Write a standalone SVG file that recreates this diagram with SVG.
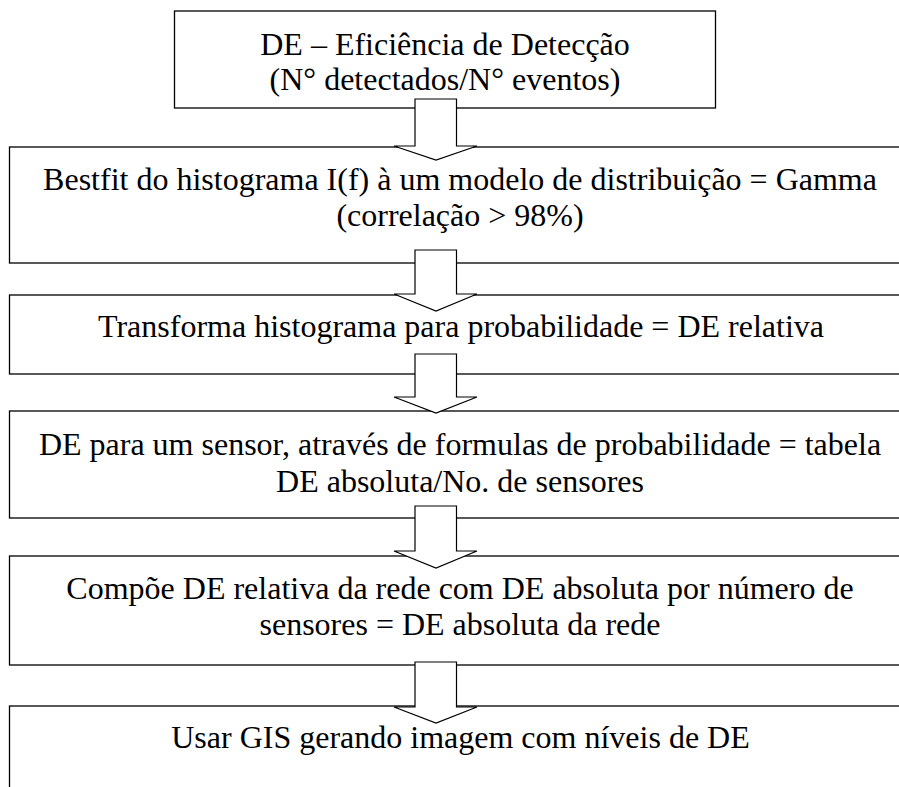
<svg xmlns="http://www.w3.org/2000/svg" width="899" height="787" viewBox="0 0 899 787">
<style>
.box{fill:#fff;stroke:#000;stroke-width:1.3}
.arr{fill:#fff;stroke:#000;stroke-width:1.2;stroke-linejoin:miter}
text{font-family:"Liberation Serif","Times New Roman",serif;font-size:32px;fill:#000;text-anchor:middle}
</style>
<rect width="899" height="787" fill="#fff"/>
<g id="n1"><rect class="box" x="174.5" y="11" width="541" height="97"/>
<text x="445" y="55">DE – Eficiência de Detecção</text>
<text x="445" y="90">(N° detectados/N° eventos)</text></g>
<g id="n2"><rect class="box" x="9.5" y="147" width="902" height="116"/>
<text x="460" y="190">Bestfit do histograma I(f) à um modelo de distribuição = Gamma</text>
<text x="460" y="226">(correlação &gt; 98%)</text></g>
<g id="n3"><rect class="box" x="9.5" y="295" width="902" height="79"/>
<text x="461" y="337">Transforma histograma para probabilidade = DE relativa</text></g>
<g id="n4"><rect class="box" x="9.5" y="411" width="902" height="107"/>
<text x="460" y="455">DE para um sensor, através de formulas de probabilidade = tabela</text>
<text x="460" y="492">DE absoluta/No. de sensores</text></g>
<g id="n5"><rect class="box" x="9.5" y="556" width="902" height="109"/>
<text x="460" y="599">Compõe DE relativa da rede com DE absoluta por número de</text>
<text x="460" y="635">sensores = DE absoluta da rede</text></g>
<g id="n6"><rect class="box" x="9.5" y="706" width="902" height="100"/>
<text x="460.5" y="748">Usar GIS gerando imagem com níveis de DE</text></g>
<g id="connectors">
<polygon class="arr" points="415,99 456.5,99 456.5,146 477,146 436,160 394,146 415,146"/>
<polygon class="arr" points="415,250 456.5,250 456.5,294 477,294 436,311 394,294 415,294"/>
<polygon class="arr" points="415,354 456.5,354 456.5,397 477,397 436,413 394,397 415,397"/>
<polygon class="arr" points="415,506 456.5,506 456.5,551 477,551 436,568 394,551 415,551"/>
<polygon class="arr" points="415,662 456.5,662 456.5,707 477,707 436,723 394,707 415,707"/>
</g>
</svg>
